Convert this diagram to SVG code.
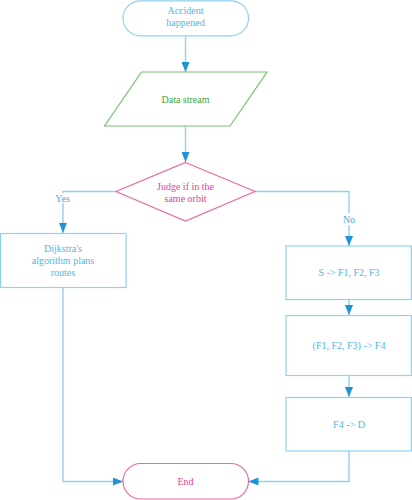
<svg xmlns="http://www.w3.org/2000/svg" width="412" height="500" viewBox="0 0 412 500">
<style>
text{font-family:"Liberation Serif","Times New Roman",serif;font-size:10px;text-anchor:middle;dominant-baseline:central}
.b{fill:#fff;stroke:#8fd1f0;stroke-width:1.2}
.bt{fill:#4fb6e6}
.p{fill:#fff;stroke:#ea6aa6;stroke-width:1.2}
.pt{fill:#e24592}
.g{fill:#fff;stroke:#72c472;stroke-width:1.2}
.gt{fill:#3ca53c}
.c{fill:none;stroke:#8fd1f0;stroke-width:1.4}
.lbl{fill:#4aa8d6}
</style>
<defs>
<marker id="ar" viewBox="0 0 10 8" refX="10" refY="4" markerWidth="10" markerHeight="8" markerUnits="userSpaceOnUse" orient="auto">
<path d="M0,0 L10,4 L0,8 Z" fill="#1d94d5"/>
</marker>
</defs>
<g id="connectors">
<path class="c" d="M185.5,36 V72" marker-end="url(#ar)"/>
<path class="c" d="M185.5,126 V162" marker-end="url(#ar)"/>
<path class="c" d="M116,191.5 H63 V233" marker-end="url(#ar)"/>
<path class="c" d="M255,191.5 H349 V246" marker-end="url(#ar)"/>
<path class="c" d="M349,299.5 V315" marker-end="url(#ar)"/>
<path class="c" d="M349,375.5 V397" marker-end="url(#ar)"/>
<path class="c" d="M63,287.5 V481.5 H123" marker-end="url(#ar)"/>
<path class="c" d="M349,451 V481.5 H248.5" marker-end="url(#ar)"/>
<rect x="53" y="193" width="20" height="10" fill="#fff"/>
<text class="lbl" x="62.5" y="198">Yes</text>
<rect x="340" y="213" width="18" height="12" fill="#fff"/>
<text class="lbl" x="349" y="219">No</text>
</g>
<g id="start">
<rect class="b" x="123" y="0.8" width="125.5" height="35" rx="17.5"/>
<text class="bt" x="185.5" y="10">Accident</text>
<text class="bt" x="185.5" y="22.5">happened</text>
</g>
<g id="data">
<polygon class="g" points="141.5,72 267,72 230,126 104.5,126"/>
<text class="gt" x="185.5" y="99">Data stream</text>
</g>
<g id="judge">
<polygon class="p" points="185.5,162.5 255,191.5 185.5,221 116,191.5"/>
<text class="pt" x="185.5" y="186">Judge if in the</text>
<text class="pt" x="185.5" y="198">same orbit</text>
</g>
<g id="dijkstra">
<rect class="b" x="0.6" y="233.5" width="125.5" height="54"/>
<text class="bt" x="63" y="248.5">Dijkstra's</text>
<text class="bt" x="63" y="260.5">algorithm plans</text>
<text class="bt" x="63" y="272.5">routes</text>
</g>
<g id="s-f">
<rect class="b" x="286" y="246" width="125.4" height="53.5"/>
<text class="bt" x="349" y="272.7">S -&gt; F1, F2, F3</text>
</g>
<g id="f-f4">
<rect class="b" x="286" y="315.5" width="125.4" height="60"/>
<text class="bt" x="349" y="345">(F1, F2, F3) -&gt; F4</text>
</g>
<g id="f4-d">
<rect class="b" x="286" y="397.5" width="125.4" height="53.5"/>
<text class="bt" x="349" y="424.3">F4 -&gt; D</text>
</g>
<g id="end">
<rect class="p" x="123" y="463.5" width="125.5" height="35.5" rx="17.75"/>
<text class="pt" x="185.5" y="481.5">End</text>
</g>
</svg>
